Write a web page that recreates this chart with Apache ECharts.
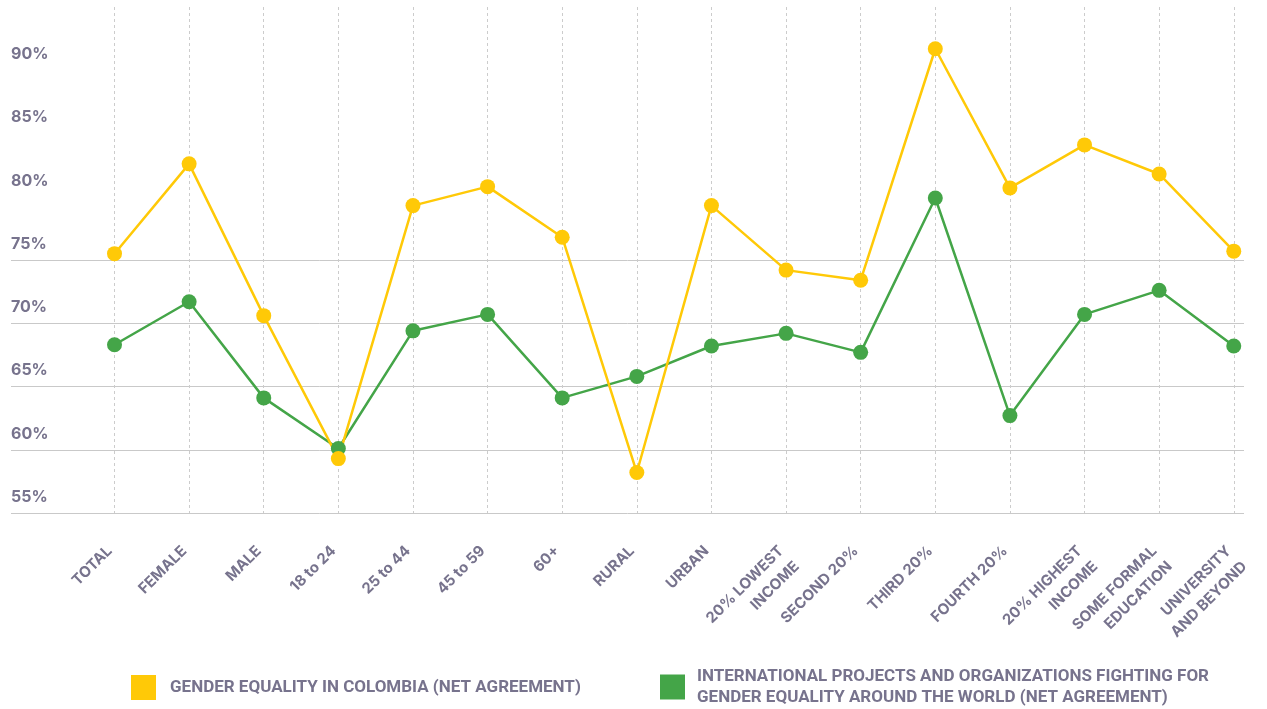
<!DOCTYPE html>
<html>
<head>
<meta charset="utf-8">
<script src="https://cdn.jsdelivr.net/npm/echarts@6/dist/echarts.min.js"></script>
<style>
  html, body { margin: 0; padding: 0; background: #fff; }
  #chart_1 { width: 1267px; height: 709px; }
</style>
</head>
<body>
<div id="chart_1"></div>
<script>
// categories (line breaks as in the picture)
var categories = ['TOTAL', 'FEMALE', 'MALE', '18 to 24', '25 to 44', '45 to 59', '60+', 'RURAL', 'URBAN',
  '20% LOWEST\nINCOME', 'SECOND 20%', 'THIRD 20%', 'FOURTH 20%', '20% HIGHEST\nINCOME',
  'SOME FORMAL\nEDUCATION', 'UNIVERSITY\nAND BEYOND'];

var colombiaName = 'GENDER EQUALITY IN COLOMBIA (NET AGREEMENT)';
var worldName = 'INTERNATIONAL PROJECTS AND ORGANIZATIONS FIGHTING FOR GENDER EQUALITY AROUND THE WORLD (NET AGREEMENT)';

var colombiaValues = [75.5, 82.6, 70.6, 59.3, 79.3, 80.8, 76.8, 58.2, 79.3, 74.2, 73.4, 91.7, 80.7, 84.1, 81.8, 75.7];
var worldValues = [68.3, 71.7, 64.1, 60.1, 69.4, 70.7, 64.1, 65.8, 68.2, 69.2, 67.7, 79.9, 62.7, 70.7, 72.6, 68.2];

// y ticks 55..95, labels shown up to 90
var yMin = 55;
var yMax = 95;
var yStep = 5;
var yLabelMax = 90;

var textColor = '#77738d';
var yellow = '#ffc907';
var green = '#44a548';
var axisFont = 'Inter, "Open Sans", sans-serif';
var legendFont = 'Roboto, "Liberation Sans", sans-serif';

var chart = echarts.init(document.getElementById('chart_1'), null, { renderer: 'canvas' });

// horizontal lines only up to 75%
var gridColors = [];
for (var v = yMin; v <= yMax; v += yStep) {
  gridColors.push(v <= 75 ? '#c9c9c9' : 'rgba(0,0,0,0)');
}

chart.setOption({
  animation: false,
  backgroundColor: '#ffffff',
  grid: [
    { left: 11, right: 23, top: 7, bottom: 196 },   // y labels + horizontal lines
    { left: 114.5, right: 24, top: 7, bottom: 196 } // the lines
  ],
  legend: [{
    left: 131,
    top: 675,
    padding: 0,
    icon: 'rect',
    itemWidth: 25,
    itemHeight: 25,
    selectedMode: false,
    data: [colombiaName],
    textStyle: { color: textColor, fontSize: 17, fontWeight: 'bold', fontFamily: legendFont, padding: [9, 0, 0, 9] }
  }, {
    left: 660,
    top: 666,
    padding: 0,
    icon: 'rect',
    itemWidth: 25,
    itemHeight: 25,
    selectedMode: false,
    data: [worldName],
    formatter: function (name) {
      return name.replace(' FIGHTING FOR ', ' FIGHTING FOR\n');
    },
    textStyle: { color: textColor, fontSize: 17, fontWeight: 'bold', fontFamily: legendFont, lineHeight: 21, padding: [0, 0, 0, 7] }
  }],
  xAxis: [{
    gridIndex: 0,
    type: 'category',
    data: categories,
    show: false
  }, {
    gridIndex: 1,
    type: 'category',
    data: categories,
    boundaryGap: false,
    axisLine: { show: false },
    axisTick: { show: false },
    splitLine: {
      show: true,
      lineStyle: { color: '#cccccc', type: [3, 3], width: 1 }
    },
    axisLabel: {
      interval: 0,
      rotate: 45,
      margin: 15,
      verticalAlign: 'top',
      padding: [0, 18, 0, 0],
      color: textColor,
      fontSize: 15,
      fontWeight: 'bold',
      lineHeight: 22,
      fontFamily: axisFont
    }
  }],
  yAxis: [{
    gridIndex: 0,
    type: 'value',
    min: yMin,
    max: yMax,
    interval: yStep,
    axisLine: { show: false },
    axisTick: { show: false },
    axisLabel: {
      inside: true,
      margin: 0,
      verticalAlign: 'bottom',
      padding: [0, 0, 8, 0],
      color: textColor,
      fontSize: 16,
      fontWeight: 'bold',
      fontFamily: axisFont,
      formatter: function (value) {
        if (value > yLabelMax) return '';
        return value + '%';
      }
    },
    splitLine: {
      show: true,
      lineStyle: { color: gridColors, width: 1 }
    }
  }, {
    gridIndex: 1,
    type: 'value',
    min: yMin,
    max: yMax,
    interval: yStep,
    show: false
  }],
  series: [{
    name: worldName,
    type: 'line',
    xAxisIndex: 1,
    yAxisIndex: 1,
    data: worldValues,
    symbol: 'circle',
    symbolSize: 15,
    itemStyle: { color: green },
    lineStyle: { color: green, width: 2.5 }
  }, {
    name: colombiaName,
    type: 'line',
    xAxisIndex: 1,
    yAxisIndex: 1,
    data: colombiaValues,
    symbol: 'circle',
    symbolSize: 15,
    itemStyle: { color: yellow },
    lineStyle: { color: yellow, width: 2.5 }
  }]
});
</script>
</body>
</html>
